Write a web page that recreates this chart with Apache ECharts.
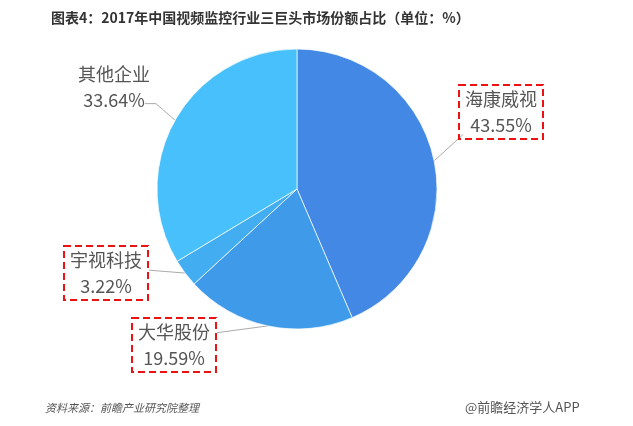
<!DOCTYPE html>
<html><head><meta charset="utf-8">
<script src="https://cdn.jsdelivr.net/npm/echarts@6/dist/echarts.min.js"></script>
<style>html,body{margin:0;padding:0;background:#fff}#c{width:633px;height:426px}</style>
</head><body><div id="c"></div>
<script>
const categories = ['海康威视', '大华股份', '宇视科技', '其他企业'];
const shares = [43.55, 19.59, 3.22, 33.64];
const highlighted = [true, true, true, false];
const colors = ['#4288e4', '#3f9be9', '#43adf2', '#47c0fb'];
const labelPos = [[501, 112], [174, 345], [106, 273], [114, 87]];
// [fraction x of label box, fraction y of label box, horizontal elbow length]
const lineAnchor = [[0.06, 0.9, 0], [1.0, 0.28, 0], [1.0, 0.45, 0], [0.93, 0.82, 11]];

const chart = echarts.init(document.getElementById('c'));
const font = '"Noto Sans CJK SC", "Noto Sans", sans-serif';
chart.setOption({
  animation: false,
  title: [{
    text: '图表4：2017年中国视频监控行业三巨头市场份额占比（单位：%）',
    left: 46, top: 6,
    textStyle: { fontFamily: font, fontSize: 14, fontWeight: 'bold', color: '#333' }
  }, {
    text: '资料来源：前瞻产业研究院整理',
    left: 40, top: 397,
    textStyle: { fontFamily: font, fontSize: 11, fontWeight: 'normal', fontStyle: 'italic', color: '#555' }
  }, {
    text: '@前瞻经济学人APP',
    left: 460, top: 396,
    textStyle: { fontFamily: font, fontSize: 13, fontWeight: 'normal', color: '#555' }
  }],
  series: [{
    type: 'pie',
    center: [297, 189],
    radius: [0, 140],
    startAngle: 90,
    clockwise: true,
    itemStyle: { borderColor: 'rgba(255,255,255,0.7)', borderWidth: 1 },
    label: {
      show: true,
      position: 'outside',
      formatter: p => p.name + '\n' + p.value.toFixed(2) + '%',
      fontFamily: font,
      fontSize: 18,
      lineHeight: 26,
      color: '#555',
      align: 'center'
    },
    labelLine: { show: true, length: 10, length2: 10, lineStyle: { color: '#aaa', width: 1 } },
    labelLayout: function (params) {
      const i = params.dataIndex;
      const p = labelPos[i];
      const w = params.labelRect.width, h = params.labelRect.height;
      const left = p[0] - w / 2, top = p[1] - h / 2;
      const a = lineAnchor[i];
      const end = [left + a[0] * w, top + a[1] * h];
      const mid = [end[0] + a[2], end[1]];
      const start = params.labelLinePoints ? params.labelLinePoints[0] : mid;
      return { x: p[0], y: p[1], align: 'center', verticalAlign: 'middle', labelLinePoints: [start, mid, end] };
    },
    data: categories.map((name, i) => ({
      name: name,
      value: shares[i],
      itemStyle: { color: colors[i] },
      label: highlighted[i] ? {
        borderColor: '#ee1111', borderWidth: 2, borderType: [7, 4],
        padding: [1, 6, 1, 6]
      } : {}
    }))
  }]
});
</script></body></html>
